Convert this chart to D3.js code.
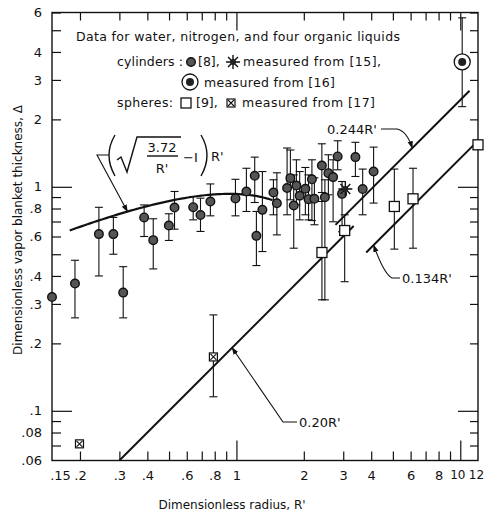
<!DOCTYPE html>
<html>
<head>
<meta charset="utf-8">
<script src="https://cdn.jsdelivr.net/npm/d3@7"></script>
<style>
  body { margin: 0; background: #fff; }
  text { font-family: "DejaVu Sans", sans-serif; fill: #111; }
</style>
</head>
<body>
<div id="chart"></div>
<script>
// values (R' = dimensionless radius, D = vapor blanket thickness)
// cylinders [8]
const cylR  = [0.150, 0.19, 0.243, 0.282, 0.312, 0.387, 0.425, 0.499, 0.529, 0.641, 0.691, 0.765, 0.99, 1.108, 1.207, 1.228, 1.306,
               1.463, 1.516, 1.684, 1.742, 1.803, 1.853, 1.917, 2.032, 2.10, 2.174, 2.23, 2.408, 2.484, 2.575, 2.703, 2.833, 2.964, 3.40, 3.664, 4.10];
const cylD  = [0.322, 0.37, 0.615, 0.615, 0.337, 0.73, 0.578, 0.672, 0.808, 0.811, 0.748, 0.86, 0.887, 0.953, 1.12, 0.604, 0.789,
               0.943, 0.844, 0.987, 1.093, 0.825, 1.013, 0.912, 0.98, 0.881, 1.08, 0.884, 1.245, 0.898, 1.151, 1.105, 1.366, 0.93, 1.357, 0.977, 1.17];
const cylLo = [null, 0.26, 0.40, 0.50, 0.26, 0.60, 0.43, 0.576, 0.647, 0.712, 0.632, 0.742, 0.742, 0.776, 0.851, 0.445, 0.514,
               0.75, 0.61, 0.75, 0.875, 0.532, 0.831, 0.712, 0.75, 0.712, 0.707, 0.677, 0.943, 0.313, 0.921, 0.698, 1.191, 0.63, 1.112, 0.75, 0.846];
const cylHi = [null, 0.47, 0.81, 0.73, 0.44, 0.83, 0.72, 0.758, 0.953, 0.905, 0.89, 1.03, 1.08, 1.21, 1.357, 0.776, 1.17,
               1.075, 1.155, 1.49, 1.46, 1.13, 1.32, 1.17, 1.22, 1.13, 1.32, 1.097, 1.556, 1.075, 1.39, 1.32, 1.605, 1.056, 1.58, 1.2, 1.504];
// cylinders measured from [15] (asterisk)
const starR = [3.066];
const starD = [0.977];
// cylinders measured from [16] (circled dot)
const ringR = [10.2];
const ringD = [3.61];
const ringLo = [2.28];
const ringHi = [5.68];
// spheres [9]
const sphR  = [2.41, 3.045, 5.075, 6.15, 12];
const sphD  = [0.509, 0.638, 0.817, 0.884, 1.54];
const sphLo = [0.313, 0.377, 0.527, 0.532, null];
const sphHi = [0.86, 0.75, 1.2, 1.21, null];
// spheres measured from [17] (crossed square)
const xsqR  = [0.789, 0.199];
const xsqD  = [0.174, 0.0712];
const xsqLo = [0.1155, null];
const xsqHi = [0.268, null];
// straight lines D = c R'
const lineCoef = [0.244, 0.20, 0.134];
const lineFrom = [2.77, 0.3, 3.8];
const lineTo   = [11.0, 3.34, 12];
// curve D = (sqrt(3.72/R') - 1) R'
const curveFrom = 0.18, curveTo = 1.45;

const xTickVals = [0.15, 0.2, 0.3, 0.4, 0.6, 0.8, 1, 2, 3, 4, 6, 8, 10, 12];
const xTickText = [".15", ".2", ".3", ".4", ".6", ".8", "1", "2", "3", "4", "6", "8", "10", "12"];
const xMinor = [0.2, 0.3, 0.4, 0.5, 0.6, 0.7, 0.8, 0.9, 2, 3, 4, 5, 6, 7, 8, 9];
const xMajor = [1, 10];
const yTickVals = [0.06, 0.08, 0.1, 0.2, 0.3, 0.4, 0.6, 0.8, 1, 2, 3, 4, 6];
const yTickText = [".06", ".08", ".1", ".2", ".3", ".4", ".6", ".8", "1", "2", "3", "4", "6"];
const yMinor = [0.07, 0.08, 0.09, 0.2, 0.3, 0.4, 0.5, 0.6, 0.7, 0.8, 0.9, 2, 3, 4, 5, 6];
const yMajor = [0.1, 1];

const W = 484, H = 516;
const L = 52, R = 478, T = 12.5, B = 460.5;

const x = d3.scaleLog().domain([0.15, 12]).range([L, R]);
const y = d3.scaleLog().domain([0.06, 6]).range([B, T]);

const svg = d3.select("#chart").append("svg").attr("width", W).attr("height", H);

svg.append("defs").append("marker")
  .attr("id", "arrow").attr("viewBox", "0 0 10 10").attr("refX", 9).attr("refY", 5)
  .attr("markerWidth", 7).attr("markerHeight", 7).attr("orient", "auto")
  .append("path").attr("d", "M0,1.5 L10,5 L0,8.5 Z").attr("fill", "#111");

// frame
svg.append("rect").attr("x", L).attr("y", T).attr("width", R - L).attr("height", B - T)
  .attr("fill", "none").attr("stroke", "#111").attr("stroke-width", 1.4);

// inward ticks on all four sides
function ticks(axis, tf, vals, size) {
  const g = svg.append("g").attr("transform", tf)
    .call(axis.tickValues(vals).tickSize(-size).tickFormat(""));
  g.select(".domain").remove();
  g.selectAll("line").attr("stroke", "#111").attr("stroke-width", 1.2);
}
ticks(d3.axisBottom(x), `translate(0,${B})`, xMinor, 9);
ticks(d3.axisBottom(x), `translate(0,${B})`, xMajor, 20);
ticks(d3.axisTop(x), `translate(0,${T})`, xMinor, 8);
ticks(d3.axisTop(x), `translate(0,${T})`, xMajor, 18);
ticks(d3.axisLeft(y), `translate(${L},0)`, yMinor, 9);
ticks(d3.axisLeft(y), `translate(${L},0)`, yMajor, 20);
ticks(d3.axisRight(y), `translate(${R},0)`, yMinor, 8);
ticks(d3.axisRight(y), `translate(${R},0)`, yMajor, 20);

// tick labels
const xShift = {0.15: 8, 10: -3, 12: -2};
const xl = svg.append("g").attr("transform", `translate(0,${B})`)
  .call(d3.axisBottom(x).tickValues(xTickVals).tickSize(0).tickPadding(10)
    .tickFormat((d, i) => xTickText[i]));
xl.select(".domain").remove();
xl.selectAll("text").attr("font-size", d => d >= 10 ? 12 : 13).attr("font-family", "DejaVu Sans").attr("fill", "#111")
  .attr("dx", d => xShift[d] || 0);

const yl = svg.append("g").attr("transform", `translate(${L},0)`)
  .call(d3.axisLeft(y).tickValues(yTickVals).tickSize(0).tickPadding(10)
    .tickFormat((d, i) => yTickText[i]));
yl.select(".domain").remove();
yl.selectAll("text").attr("font-size", 13).attr("font-family", "DejaVu Sans").attr("fill", "#111");

// axis titles
svg.append("text").attr("x", 232).attr("y", 509).attr("text-anchor", "middle")
  .attr("font-size", 12).text("Dimensionless radius, R'");
svg.append("text").attr("transform", "translate(22,230) rotate(-90)").attr("text-anchor", "middle")
  .attr("font-size", 12).text("Dimensionless vapor blanket thickness, \u0394");

// theory lines
const line = d3.line().x(d => x(d[0])).y(d => y(d[1]));
lineCoef.forEach((c, i) => {
  svg.append("path").attr("d", line([[lineFrom[i], c * lineFrom[i]], [lineTo[i], c * lineTo[i]]]))
    .attr("stroke", "#111").attr("stroke-width", 2).attr("fill", "none");
});
const curveF = r => Math.sqrt(3.72 / r) * r - r;
const curvePts = d3.range(0, 61).map(k => {
  const r = curveFrom * Math.pow(curveTo / curveFrom, k / 60);
  return [r, curveF(r)];
});
svg.append("path").attr("d", line.curve(d3.curveBasis)(curvePts))
  .attr("stroke", "#111").attr("stroke-width", 2.2).attr("fill", "none");

// error bars
function errBars(xs, lo, hi) {
  const g = svg.append("g").attr("stroke", "#111").attr("stroke-width", 1.1);
  xs.forEach((r, i) => {
    if (lo[i] == null) return;
    const cx = x(r), y1 = y(hi[i]), y2 = y(lo[i]);
    g.append("line").attr("x1", cx).attr("x2", cx).attr("y1", y1).attr("y2", y2);
    g.append("line").attr("x1", cx - 4).attr("x2", cx + 4).attr("y1", y1).attr("y2", y1);
    g.append("line").attr("x1", cx - 4).attr("x2", cx + 4).attr("y1", y2).attr("y2", y2);
  });
}
errBars(cylR, cylLo, cylHi);
errBars(sphR, sphLo, sphHi);
errBars(xsqR, xsqLo, xsqHi);
errBars(ringR, ringLo, ringHi);

// marker shapes
function dot(g, cx, cy) {
  g.append("circle").attr("cx", cx).attr("cy", cy).attr("r", 4.3)
    .attr("fill", "#555").attr("stroke", "#111").attr("stroke-width", 1.4);
}
function square(g, cx, cy) {
  g.append("rect").attr("x", cx - 5).attr("y", cy - 5).attr("width", 10).attr("height", 10)
    .attr("fill", "#fff").attr("stroke", "#111").attr("stroke-width", 1.3);
}
function xsquare(g, cx, cy) {
  g.append("rect").attr("x", cx - 4).attr("y", cy - 4).attr("width", 8).attr("height", 8)
    .attr("fill", "#fff").attr("stroke", "#111").attr("stroke-width", 1.2);
  g.append("path").attr("d", `M${cx - 3},${cy - 3}L${cx + 3},${cy + 3}M${cx + 3},${cy - 3}L${cx - 3},${cy + 3}`)
    .attr("stroke", "#111").attr("stroke-width", 1.1);
}
function ring(g, cx, cy) {
  g.append("circle").attr("cx", cx).attr("cy", cy).attr("r", 8)
    .attr("fill", "#fff").attr("stroke", "#111").attr("stroke-width", 1.3);
  g.append("circle").attr("cx", cx).attr("cy", cy).attr("r", 4).attr("fill", "#222");
}
function star(g, cx, cy) {
  let d = "";
  for (let a = 0; a < 8; a++) {
    const t = a * Math.PI / 4;
    d += `M${cx},${cy}L${cx + 7 * Math.cos(t)},${cy + 7 * Math.sin(t)}`;
  }
  g.append("path").attr("d", d).attr("stroke", "#111").attr("stroke-width", 1.4);
  g.append("circle").attr("cx", cx).attr("cy", cy).attr("r", 3).attr("fill", "#222");
}

const marks = svg.append("g");
cylR.forEach((r, i) => dot(marks, x(r), y(cylD[i])));
starR.forEach((r, i) => star(marks, x(r), y(starD[i])));
ringR.forEach((r, i) => ring(marks, x(r), y(ringD[i])));
sphR.forEach((r, i) => square(marks, x(r), y(sphD[i])));
xsqR.forEach((r, i) => xsquare(marks, x(r), y(xsqD[i])));

// legend block
const lg = svg.append("g").attr("font-size", 12.5);
lg.append("text").attr("x", 76).attr("y", 41).attr("textLength", 324).text("Data for water, nitrogen, and four organic liquids");
lg.append("text").attr("x", 117).attr("y", 66).attr("textLength", 66).text("cylinders :");
dot(lg, 191, 62);
lg.append("text").attr("x", 198).attr("y", 66).text("[8],");
star(lg, 233, 62);
lg.append("text").attr("x", 243).attr("y", 66).attr("textLength", 138).text("measured from [15],");
ring(lg, 190, 82);
lg.append("text").attr("x", 204).attr("y", 87).attr("textLength", 131).text("measured from [16]");
lg.append("text").attr("x", 117).attr("y", 107).attr("textLength", 56).text("spheres:");
square(lg, 186, 103);
lg.append("text").attr("x", 196).attr("y", 107).text("[9],");
xsquare(lg, 231, 103);
lg.append("text").attr("x", 242).attr("y", 107).attr("textLength", 133).text("measured from [17]");

// curve formula label
const fl = svg.append("g").attr("stroke", "#111").attr("fill", "none").attr("stroke-width", 1.4);
fl.append("path").attr("d", "M115,135 Q103,155 115,176");
fl.append("path").attr("d", "M201,135 Q213,155 201,176");
fl.append("path").attr("d", "M117,160 L121,157 L127,172 L137,137 L181,137");
fl.append("line").attr("x1", 147).attr("x2", 178).attr("y1", 156).attr("y2", 156);
svg.append("text").attr("x", 162).attr("y", 152).attr("text-anchor", "middle").attr("font-size", 13).text("3.72");
svg.append("text").attr("x", 162).attr("y", 173).attr("text-anchor", "middle").attr("font-size", 13).text("R'");
svg.append("text").attr("x", 183).attr("y", 162).attr("font-size", 13).text("\u2212I");
svg.append("text").attr("x", 211).attr("y", 161).attr("font-size", 13).text("R'");
const tipC = 0.326;
svg.append("path").attr("d", `M109,155 L97,155 L${x(tipC)},${y(curveF(tipC))}`)
  .attr("stroke", "#111").attr("stroke-width", 1.1).attr("fill", "none").attr("marker-end", "url(#arrow)");

// line labels with leaders
function leader(d) {
  svg.append("path").attr("d", d).attr("stroke", "#111").attr("stroke-width", 1.1)
    .attr("fill", "none").attr("marker-end", "url(#arrow)");
}
const tip244 = 6.1, tip134 = 4.1, tip20 = 0.956;
svg.append("text").attr("x", 327).attr("y", 134).attr("font-size", 13).text("0.244R'");
leader(`M381,129 L397,129 Q407,131 ${x(tip244)},${y(0.244 * tip244)}`);
svg.append("text").attr("x", 402).attr("y", 283).attr("font-size", 13).text("0.134R'");
leader(`M400,278 L392,278 Q384,274 ${x(tip134)},${y(0.134 * tip134)}`);
svg.append("text").attr("x", 299).attr("y", 427).attr("font-size", 13).text("0.20R'");
leader(`M297,422 L283,422 ${x(tip20)},${y(0.20 * tip20)}`);
</script>
</body>
</html>
